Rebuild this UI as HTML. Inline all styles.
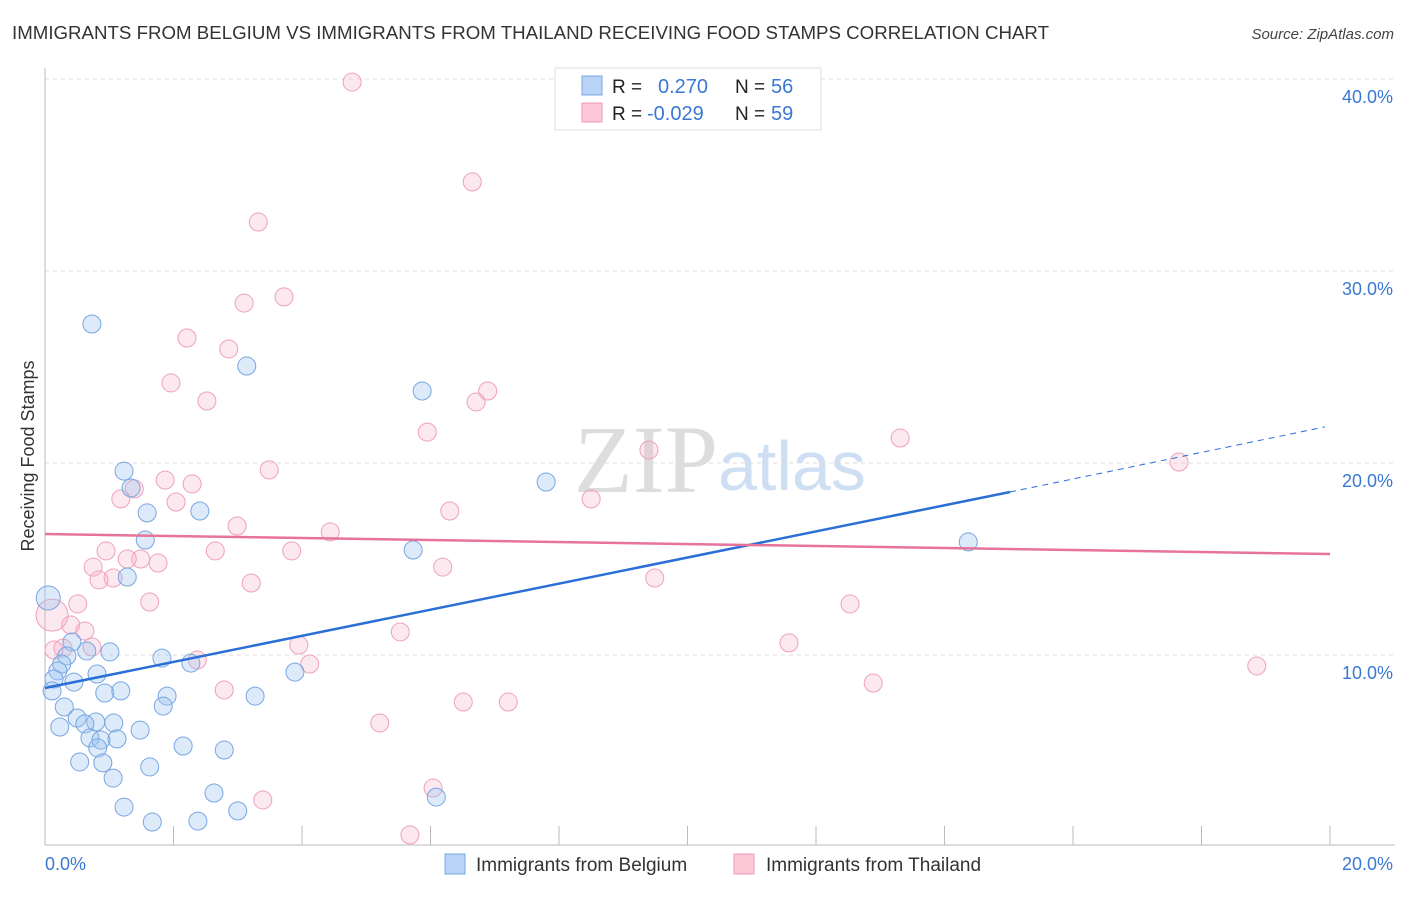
<!DOCTYPE html>
<html><head><meta charset="utf-8"><style>
body{margin:0;background:#fff;font-family:"Liberation Sans",sans-serif}
</style></head><body>
<svg width="1406" height="892" xmlns="http://www.w3.org/2000/svg" font-family="Liberation Sans, sans-serif">
<text x="12" y="39" font-size="18" fill="#333" textLength="1037" lengthAdjust="spacingAndGlyphs">IMMIGRANTS FROM BELGIUM VS IMMIGRANTS FROM THAILAND RECEIVING FOOD STAMPS CORRELATION CHART</text>
<text x="1394" y="39" font-size="15" font-style="italic" fill="#444" text-anchor="end">Source: ZipAtlas.com</text>
<text x="718" y="492" font-size="96" text-anchor="end" fill="#ddd" font-family="Liberation Serif, serif">ZIP</text>
<text x="718" y="490" font-size="70" fill="#cfdff3">atlas</text>
<g id="grid"></g>
<line x1="45" y1="68" x2="45" y2="845" stroke="#bbb"/>
<line x1="45" y1="845" x2="1395" y2="845" stroke="#bbb"/>
<g id="xticks"></g>
<text transform="translate(34,456) rotate(-90)" font-size="18" fill="#333" text-anchor="middle">Receiving Food Stamps</text>
<text x="45" y="870" font-size="18" fill="#3a78d4">0.0%</text>
<text x="1393" y="870" font-size="18" fill="#3a78d4" text-anchor="end">20.0%</text>
<g id="pts"></g>
<g id="lines"></g>
<g>
<rect x="555" y="68" width="266" height="62" fill="#fff" stroke="#ddd"/>
<rect x="582" y="76" width="20" height="19" fill="#b8d3f5" stroke="#7aa8e6"/>
<rect x="582" y="103" width="20" height="19" fill="#fcc8d8" stroke="#ef9ab5"/>
<text x="612" y="93" font-size="19" fill="#222">R =</text>
<text x="658" y="93" font-size="20" fill="#3a78d4">0.270</text>
<text x="735" y="93" font-size="19" fill="#222">N =</text>
<text x="771" y="93" font-size="20" fill="#3a78d4">56</text>
<text x="612" y="120" font-size="19" fill="#222">R =</text>
<text x="647" y="120" font-size="20" fill="#3a78d4">-0.029</text>
<text x="735" y="120" font-size="19" fill="#222">N =</text>
<text x="771" y="120" font-size="20" fill="#3a78d4">59</text>
</g>
<g>
<rect x="445" y="854" width="20" height="20" fill="#b8d3f5" stroke="#7aa8e6"/>
<text x="476" y="871" font-size="19" fill="#333">Immigrants from Belgium</text></g>
<g>
<rect x="734" y="854" width="20" height="20" fill="#fcc8d8" stroke="#ef9ab5"/>
<text x="766" y="871" font-size="19" fill="#333">Immigrants from Thailand</text></g>
</svg>
<script>
const blueX=[0.73,3.14,5.87,1.23,7.80,1.34,1.59,2.41,1.56,5.73,14.37,1.28,0.05,0.42,0.65,0.34,1.01,0.26,0.20,0.81,1.82,2.27,0.14,0.45,3.89,0.11,0.93,1.18,1.90,3.27,0.30,1.84,0.50,0.79,0.62,1.07,1.48,0.23,1.12,0.70,0.87,0.82,2.15,2.79,0.54,0.90,1.63,1.06,2.63,6.09,1.23,3.00,1.67,2.38];
const blueY=[27.24,25.05,23.75,19.58,19.01,18.70,17.40,17.50,15.99,15.47,15.89,14.06,12.97,10.68,10.21,9.95,10.16,9.53,9.17,9.01,9.84,9.58,8.75,8.59,9.11,8.13,8.02,8.13,7.86,7.86,7.29,7.34,6.72,6.51,6.41,6.46,6.09,6.25,5.63,5.68,5.57,5.16,5.26,5.05,4.43,4.38,4.17,3.59,2.81,2.60,2.08,1.88,1.30,1.35];
const pinkX=[4.78,6.65,3.32,3.72,3.10,2.21,2.86,1.96,2.52,6.89,6.71,5.95,13.31,9.40,17.65,3.49,1.87,2.29,1.39,1.18,2.04,8.50,6.30,2.99,4.44,0.95,2.65,3.84,1.49,1.28,1.76,0.75,6.19,1.06,0.84,3.21,9.49,1.63,0.51,12.53,0.11,0.40,0.62,5.53,3.95,11.58,0.28,0.14,0.73,2.37,4.12,18.86,2.79,12.89,6.51,7.21,5.21,3.39,6.04,5.68];
const pinkY=[39.84,34.64,32.55,28.65,28.33,26.51,25.94,24.17,23.23,23.75,23.18,21.61,21.30,20.68,20.05,19.64,19.11,18.91,18.65,18.13,17.97,18.13,17.50,16.72,16.41,15.42,15.42,15.42,15.00,15.00,14.79,14.58,14.58,14.01,13.91,13.75,14.01,12.76,12.66,12.66,12.08,11.56,11.25,11.20,10.52,10.63,10.36,10.26,10.42,9.74,9.53,9.43,8.18,8.54,7.55,7.55,6.46,2.45,3.07,0.63];
const yTicks=[10,20,30,40];
const yTickLabels=["10.0%","20.0%","30.0%","40.0%"];
const blueTrend=[[0,8.28],[15.02,18.49],[19.92,21.88]];
const pinkTrend=[[0,16.30],[20,15.26]];
const NS="http://www.w3.org/2000/svg";
const sx=v=>45+v*64.25, sy=v=>847-v*19.2;
function mk(t,a,p){const e=document.createElementNS(NS,t);for(const k in a)e.setAttribute(k,a[k]);p.appendChild(e);return e;}
const grid=document.getElementById('grid');
yTicks.forEach((t,i)=>{const l=mk('line',{x1:45,x2:1395,y1:sy(t),y2:sy(t),stroke:'#ddd','stroke-dasharray':'4,4'},grid);


const tx=mk('text',{x:1393,y:sy(t)+24,'font-size':18,fill:'#3a78d4','text-anchor':'end'},grid);tx.textContent=yTickLabels[i];

});
const xt=document.getElementById('xticks');
for(let i=0;i<=10;i++){const l=mk('line',{x1:sx(i*2),x2:sx(i*2),y1:826,y2:845,stroke:'#bbb'},xt);

}
const pts=document.getElementById('pts');
pinkX.forEach((x,i)=>{const c=mk('circle',{cx:sx(x),cy:sy(pinkY[i]),r:i==40?16:9,fill:'rgba(246,175,198,0.28)',stroke:'#efa0ba','stroke-width':1},pts);

});
blueX.forEach((x,i)=>{const c=mk('circle',{cx:sx(x),cy:sy(blueY[i]),r:i==12?12:9,fill:'rgba(155,195,240,0.35)',stroke:'#78a6e2','stroke-width':1},pts);

});
const ln=document.getElementById('lines');
let a=mk('line',{x1:sx(blueTrend[0][0]),y1:sy(blueTrend[0][1]),x2:sx(blueTrend[1][0]),y2:sy(blueTrend[1][1]),stroke:'#2a6fd6','stroke-width':2.5},ln);


let b=mk('line',{x1:sx(blueTrend[1][0]),y1:sy(blueTrend[1][1]),x2:sx(blueTrend[2][0]),y2:sy(blueTrend[2][1]),stroke:'#2a6fd6','stroke-width':1,'stroke-dasharray':'6,5'},ln);


let c=mk('line',{x1:sx(pinkTrend[0][0]),y1:sy(pinkTrend[0][1]),x2:sx(pinkTrend[1][0]),y2:sy(pinkTrend[1][1]),stroke:'#e8739a','stroke-width':2.5},ln);


</script>
</body></html>
